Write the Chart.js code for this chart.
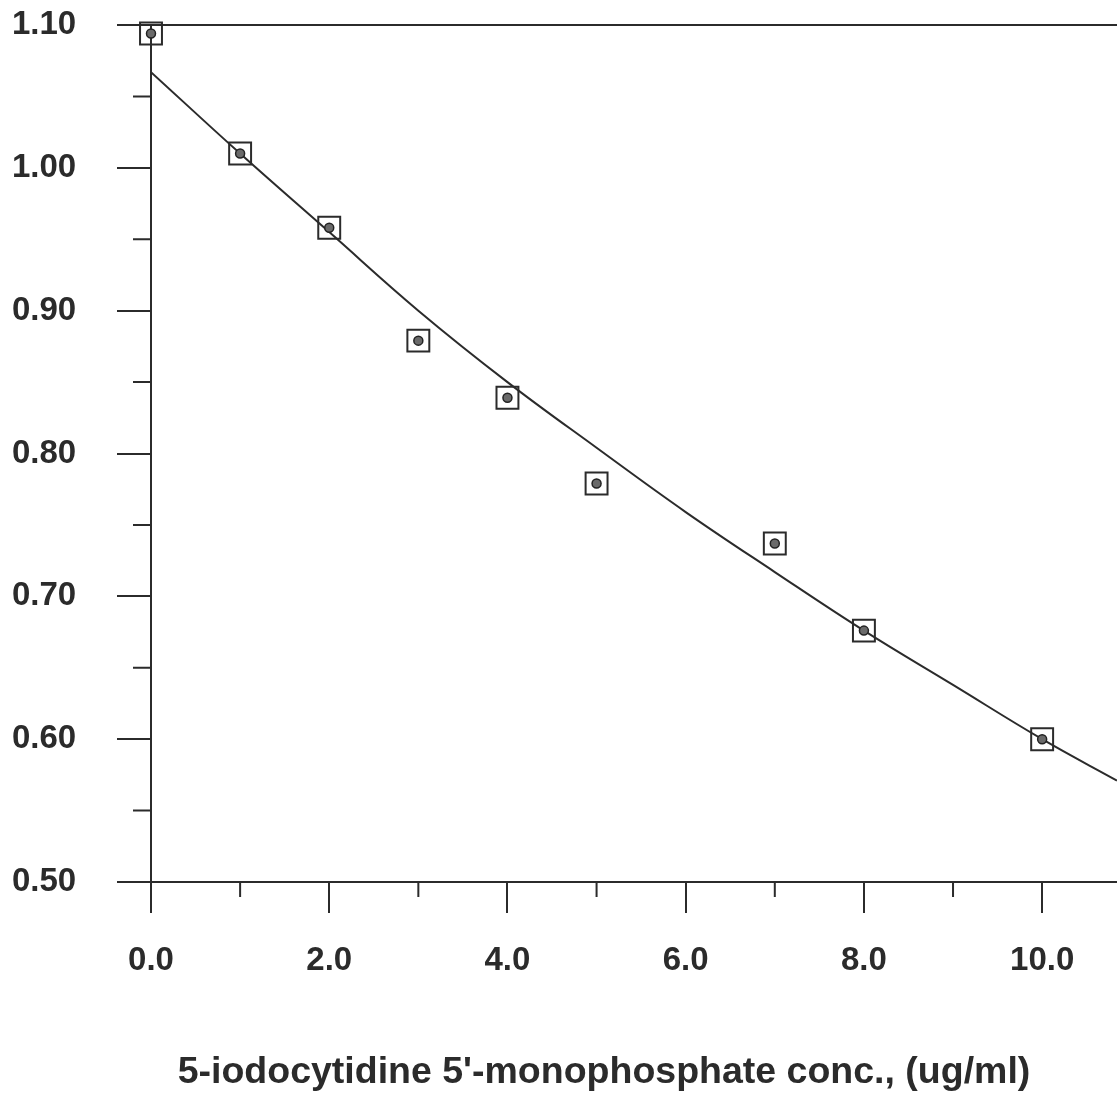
<!DOCTYPE html>
<html>
<head>
<meta charset="utf-8">
<script src="https://cdn.jsdelivr.net/npm/chart.js@4.4.0/dist/chart.umd.min.js"></script>
<style>
  html, body { margin: 0; padding: 0; background: #fff; }
  canvas { display: block; }
</style>
</head>
<body>
<canvas id="chart" width="1117" height="1095"></canvas>
<script>
// measured points (squares)
const measuredX = [0, 1, 2, 3, 4, 5, 7, 8, 10];
const measuredY = [1.094, 1.010, 0.958, 0.879, 0.839, 0.779, 0.737, 0.676, 0.600];
// fitted curve
const fitX = [0, 1, 2, 3, 4, 5, 6, 7, 8, 9, 10, 10.84];
const fitY = [1.067, 1.010, 0.955, 0.900, 0.850, 0.804, 0.759, 0.717, 0.676, 0.638, 0.600, 0.571];
// tick positions
const xMajorTicks = [0, 2, 4, 6, 8, 10];
const xMinorTicks = [1, 3, 5, 7, 9];
const yMajorTicks = [0.5, 0.6, 0.7, 0.8, 0.9, 1.0, 1.1];
const yMinorTicks = [0.55, 0.65, 0.75, 0.85, 0.95, 1.05];
const xTitle = "5-iodocytidine 5'-monophosphate conc., (ug/ml)";

const ink = '#2b2b2b';
const fontFamily = '"Liberation Sans", Arial, Helvetica, sans-serif';

const toPoints = (xs, ys) => xs.map((x, i) => ({ x: x, y: ys[i] }));
const near = (a, b) => Math.abs(a - b) < 1e-6;

function noPadding(scale) {
    scale.paddingTop = 0;
    scale.paddingBottom = 0;
    scale.paddingLeft = 0;
    scale.paddingRight = 0;
}

// short ticks between the labelled ones
const minorTicks = {
    id: 'minorTicks',
    afterDraw(chart) {
        const { ctx, chartArea, scales } = chart;
        ctx.save();
        ctx.strokeStyle = ink;
        ctx.lineWidth = 2;
        ctx.beginPath();
        yMinorTicks.forEach(v => {
            const py = scales.y.getPixelForValue(v);
            ctx.moveTo(chartArea.left - 18, py);
            ctx.lineTo(chartArea.left, py);
        });
        xMinorTicks.forEach(v => {
            const px = scales.x.getPixelForValue(v);
            ctx.moveTo(px, chartArea.bottom);
            ctx.lineTo(px, chartArea.bottom + 15);
        });
        ctx.stroke();
        ctx.restore();
    }
};

new Chart(document.getElementById('chart'), {
    type: 'scatter',
    data: {
        datasets: [
            {
                label: 'dots',
                data: toPoints(measuredX, measuredY),
                pointStyle: 'circle',
                pointRadius: 4.5,
                pointBackgroundColor: '#6a6a6a',
                pointBorderColor: '#222',
                pointBorderWidth: 1.5,
                clip: false,
                order: 0
            },
            {
                label: 'measured',
                data: toPoints(measuredX, measuredY),
                pointStyle: 'rect',
                pointRadius: 15.5,
                pointBackgroundColor: 'rgba(255,255,255,0)',
                pointBorderColor: ink,
                pointBorderWidth: 2,
                clip: false,
                order: 1
            },
            {
                label: 'fit',
                data: toPoints(fitX, fitY),
                showLine: true,
                borderColor: ink,
                borderWidth: 2,
                pointRadius: 0,
                tension: 0.4,
                order: 2
            }
        ]
    },
    options: {
        responsive: false,
        animation: false,
        layout: { autoPadding: false, padding: { left: 91, top: 25, right: 0, bottom: 0 } },
        plugins: {
            legend: { display: false },
            tooltip: { enabled: false },
            title: {
                display: true,
                text: xTitle,
                position: 'bottom',
                color: ink,
                font: { family: fontFamily, size: 37.5, weight: 'bold' },
                padding: { top: 0, bottom: 0 }
            }
        },
        scales: {
            x: {
                type: 'linear',
                min: 0,
                max: 10.84,
                afterBuildTicks: scale => { scale.ticks = xMajorTicks.map(v => ({ value: v })); },
                afterFit: scale => { scale.height = 168; noPadding(scale); },
                border: { display: true, color: ink, width: 2 },
                grid: { drawOnChartArea: false, tickLength: 31, tickColor: ink, lineWidth: 2 },
                ticks: {
                    padding: 28,
                    color: ink,
                    maxRotation: 0,
                    autoSkip: false,
                    font: { family: fontFamily, size: 33, weight: 'bold' },
                    callback: v => v.toFixed(1)
                }
            },
            y: {
                min: 0.5,
                max: 1.1,
                afterBuildTicks: scale => { scale.ticks = yMajorTicks.map(v => ({ value: v })); },
                afterFit: scale => { scale.width = 60; noPadding(scale); },
                border: { display: true, color: ink, width: 2 },
                grid: {
                    tickLength: 34,
                    lineWidth: 2,
                    tickColor: ink,
                    color: c => (near(c.tick.value, 1.1) || near(c.tick.value, 0.5)) ? ink : 'rgba(0,0,0,0)'
                },
                ticks: {
                    // labels sit far left of the axis, outside the axis box
                    mirror: true,
                    padding: -139,
                    color: ink,
                    autoSkip: false,
                    font: { family: fontFamily, size: 33, weight: 'bold' },
                    callback: v => v.toFixed(2)
                }
            }
        }
    },
    plugins: [minorTicks]
});
</script>
</body>
</html>
